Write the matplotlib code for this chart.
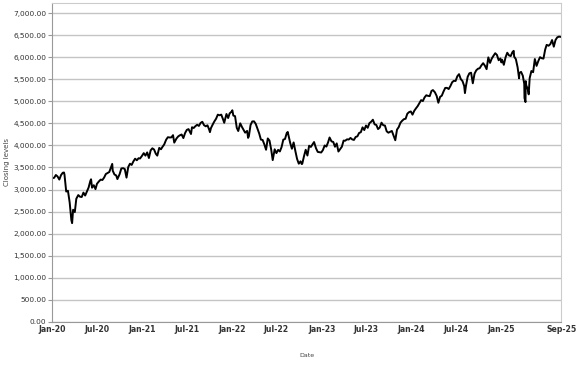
import matplotlib
matplotlib.use("Agg")
import matplotlib.pyplot as plt
from matplotlib.ticker import FuncFormatter
import pandas as pd

# weekly-ish closing levels (plus a few turning points)
days_2020 = ["01-02", "01-10", "01-17", "01-24", "01-31", "02-07", "02-14", "02-19", "02-21", "02-28",
             "03-06", "03-13", "03-20", "03-23", "03-27", "04-03", "04-09", "04-17", "04-24", "05-01",
             "05-08", "05-15", "05-22", "05-29", "06-05", "06-08", "06-12", "06-19", "06-26", "07-02",
             "07-10", "07-17", "07-24", "07-31", "08-07", "08-14", "08-21", "09-02", "09-04", "09-11",
             "09-18", "09-23", "10-02", "10-09", "10-16", "10-23", "10-30", "11-06", "11-13", "11-20",
             "11-27", "12-04", "12-11", "12-18", "12-24", "12-31"]
close_2020 = [3257.85, 3265.35, 3329.62, 3295.47, 3225.52, 3327.71, 3380.16, 3386.15, 3337.75, 2954.22,
              2972.37, 2711.02, 2304.92, 2237.40, 2541.47, 2488.65, 2789.82, 2874.56, 2836.74, 2830.71,
              2929.80, 2863.70, 2955.45, 3044.31, 3193.93, 3232.39, 3041.31, 3097.74, 3009.05, 3130.01,
              3185.04, 3224.73, 3215.63, 3271.12, 3351.28, 3372.85, 3397.16, 3580.84, 3426.96, 3340.97,
              3319.47, 3236.92, 3348.42, 3477.13, 3483.81, 3465.39, 3269.96, 3509.44, 3585.15, 3557.54,
              3638.35, 3699.12, 3663.46, 3709.41, 3703.06, 3756.07]

days_2021 = ["01-08", "01-15", "01-22", "01-29", "02-05", "02-12", "02-19", "02-26", "03-04", "03-12",
             "03-19", "03-26", "04-01", "04-09", "04-16", "04-23", "04-30", "05-07", "05-12", "05-21",
             "05-28", "06-04", "06-11", "06-18", "06-25", "07-02", "07-09", "07-19", "07-23", "07-30",
             "08-06", "08-13", "08-20", "08-27", "09-03", "09-10", "09-17", "09-24", "10-01", "10-04",
             "10-08", "10-15", "10-22", "10-29", "11-05", "11-12", "11-19", "11-26", "12-01", "12-10",
             "12-17", "12-23", "12-31"]
close_2021 = [3824.68, 3768.25, 3841.47, 3714.24, 3886.83, 3934.83, 3906.71, 3811.15, 3768.47, 3943.34,
              3913.10, 3974.54, 4019.87, 4128.80, 4185.47, 4180.17, 4181.17, 4232.60, 4063.04, 4155.86,
              4204.11, 4229.89, 4247.44, 4166.45, 4280.70, 4352.34, 4369.55, 4258.49, 4411.79, 4395.26,
              4436.52, 4468.00, 4441.67, 4509.37, 4535.43, 4458.58, 4432.99, 4455.48, 4357.04, 4300.46,
              4391.34, 4471.37, 4544.90, 4605.38, 4697.53, 4682.85, 4697.96, 4594.62, 4513.04, 4712.02,
              4620.64, 4725.79, 4766.18]

days_2022 = ["01-03", "01-07", "01-14", "01-21", "01-27", "02-04", "02-11", "02-18", "02-24", "03-04",
             "03-08", "03-11", "03-18", "03-25", "04-01", "04-08", "04-14", "04-22", "04-29", "05-06",
             "05-13", "05-20", "05-27", "06-03", "06-10", "06-16", "06-24", "07-01", "07-08", "07-15",
             "07-22", "07-29", "08-05", "08-12", "08-16", "08-19", "08-26", "09-02", "09-09", "09-16",
             "09-23", "09-30", "10-07", "10-12", "10-14", "10-21", "10-28", "11-04", "11-11", "11-18",
             "11-25", "12-01", "12-09", "12-16", "12-23", "12-30"]
close_2022 = [4796.56, 4677.03, 4662.85, 4397.94, 4326.51, 4500.53, 4418.64, 4348.87, 4288.70, 4328.87,
              4170.70, 4204.31, 4463.12, 4543.06, 4545.86, 4488.28, 4392.59, 4271.78, 4131.93, 4123.34,
              4023.89, 3901.36, 4158.24, 4108.54, 3900.86, 3666.77, 3911.74, 3825.33, 3899.38, 3863.16,
              3961.63, 4130.29, 4145.19, 4280.15, 4305.20, 4228.48, 4057.66, 3924.26, 4067.36, 3873.33,
              3693.23, 3585.62, 3639.66, 3577.03, 3583.07, 3752.75, 3901.06, 3770.55, 3992.93, 3965.34,
              4026.12, 4076.57, 3934.38, 3852.36, 3844.82, 3839.50]

days_2023 = ["01-06", "01-13", "01-20", "01-27", "02-02", "02-10", "02-17", "02-24", "03-03", "03-10",
             "03-17", "03-24", "03-31", "04-06", "04-14", "04-21", "04-28", "05-05", "05-12", "05-19",
             "05-26", "06-02", "06-09", "06-16", "06-23", "06-30", "07-07", "07-14", "07-21", "07-28",
             "08-04", "08-11", "08-18", "08-25", "09-01", "09-08", "09-15", "09-22", "09-29", "10-06",
             "10-13", "10-20", "10-27", "11-03", "11-10", "11-17", "11-24", "12-01", "12-08", "12-15",
             "12-22", "12-29"]
close_2023 = [3895.08, 3999.09, 3972.61, 4070.56, 4179.76, 4090.46, 4079.09, 3970.04, 4045.64, 3861.59,
              3916.64, 3970.99, 4109.31, 4105.02, 4137.64, 4133.52, 4169.48, 4136.25, 4124.08, 4191.98,
              4205.45, 4282.37, 4298.86, 4409.59, 4348.33, 4450.38, 4398.95, 4505.42, 4536.34, 4582.23,
              4478.03, 4464.05, 4369.71, 4405.71, 4515.77, 4457.49, 4450.32, 4320.06, 4288.05, 4308.50,
              4327.78, 4224.16, 4117.37, 4358.34, 4415.24, 4514.02, 4559.34, 4594.63, 4604.37, 4719.19,
              4754.63, 4769.83]

days_2024 = ["01-05", "01-12", "01-19", "01-26", "02-02", "02-09", "02-16", "02-23", "03-01", "03-08",
             "03-15", "03-22", "03-28", "04-05", "04-12", "04-19", "04-26", "05-03", "05-10", "05-17",
             "05-24", "05-31", "06-07", "06-14", "06-21", "06-28", "07-05", "07-12", "07-19", "07-26",
             "08-02", "08-05", "08-09", "08-16", "08-23", "08-30", "09-06", "09-13", "09-20", "09-27",
             "10-04", "10-11", "10-18", "10-25", "11-01", "11-08", "11-15", "11-22", "11-29", "12-06",
             "12-13", "12-20", "12-27", "12-31"]
close_2024 = [4697.24, 4783.83, 4839.81, 4890.97, 4958.61, 5026.61, 5005.57, 5088.80, 5137.08, 5123.69,
              5117.09, 5234.18, 5254.35, 5204.34, 5123.41, 4967.23, 5099.96, 5127.79, 5222.68, 5303.27,
              5304.72, 5277.51, 5346.99, 5431.60, 5464.62, 5460.48, 5567.19, 5615.35, 5505.00, 5459.10,
              5346.56, 5186.33, 5344.16, 5554.25, 5634.61, 5648.40, 5408.42, 5626.02, 5702.55, 5738.17,
              5751.07, 5815.03, 5864.67, 5808.12, 5728.80, 5995.54, 5870.62, 5969.34, 6032.38, 6090.27,
              6051.09, 5930.85, 5970.84, 5881.63]

days_2025 = ["01-03", "01-10", "01-17", "01-24", "01-31", "02-07", "02-14", "02-19", "02-21", "02-28",
             "03-07", "03-13", "03-14", "03-21", "03-28", "04-03", "04-04", "04-08", "04-09", "04-11",
             "04-17", "04-21", "04-25", "05-02", "05-09", "05-16", "05-23", "05-30", "06-06", "06-13",
             "06-20", "06-27", "07-03", "07-11", "07-18", "07-25", "08-01", "08-08", "08-15", "08-22",
             "08-29"]
close_2025 = [5942.47, 5827.04, 5996.66, 6101.24, 6040.53, 6025.99, 6114.63, 6144.15, 6013.13, 5954.50,
              5770.20, 5521.52, 5638.94, 5667.56, 5580.94, 5396.52, 5074.08, 4982.77, 5456.90, 5363.36,
              5282.70, 5158.20, 5525.21, 5686.67, 5659.91, 5958.38, 5802.82, 5911.69, 6000.36, 5976.97,
              5967.84, 6173.07, 6279.35, 6259.75, 6296.79, 6388.64, 6238.01, 6389.45, 6449.80, 6466.91,
              6460.26]

tick_dates = ["2020-01-01", "2020-07-01", "2021-01-01", "2021-07-01", "2022-01-01", "2022-07-01",
              "2023-01-01", "2023-07-01", "2024-01-01", "2024-07-01", "2025-01-01", "2025-09-01"]
tick_labels = ["Jan-20", "Jul-20", "Jan-21", "Jul-21", "Jan-22", "Jul-22",
               "Jan-23", "Jul-23", "Jan-24", "Jul-24", "Jan-25", "Sep-25"]
y_ticks = list(range(0, 7001, 500))

dates, closes = [], []
for year, days, vals in [(2020, days_2020, close_2020), (2021, days_2021, close_2021),
                         (2022, days_2022, close_2022), (2023, days_2023, close_2023),
                         (2024, days_2024, close_2024), (2025, days_2025, close_2025)]:
    dates += [f"{year}-{d}" for d in days]
    closes += vals
dates = pd.to_datetime(dates)

fig = plt.figure(figsize=(5.77, 3.67), dpi=100)
ax = fig.add_axes([0.090, 0.123, 0.883, 0.869])

ax.plot(dates, closes, color="black", linewidth=1.4)

ax.set_xlim(pd.Timestamp("2020-01-01"), pd.Timestamp("2025-09-01"))
ax.set_ylim(0, 7230)
ax.set_yticks(y_ticks)
ax.yaxis.set_major_formatter(FuncFormatter(lambda v, p: f"{v:,.2f}"))
ax.set_xticks(pd.to_datetime(tick_dates))
ax.set_xticklabels(tick_labels, fontweight="bold")

ax.grid(axis="y", color="#c4c4c4", linewidth=1)
ax.set_axisbelow(True)
ax.tick_params(axis="y", labelsize=5.3, length=3, color="#999999", labelcolor="#333333", pad=1)
ax.tick_params(axis="x", labelsize=5.6, length=0, labelcolor="#333333", pad=2)
for side in ["left", "bottom"]:
    ax.spines[side].set_color("#999999")
for side in ["top", "right"]:
    ax.spines[side].set_color("#cccccc")

ax.set_xlabel("Date", fontsize=4.5, color="#444444", labelpad=14)
ax.set_ylabel("Closing levels", fontsize=5, color="#444444", labelpad=2)

fig.savefig("out.png", dpi=100)
